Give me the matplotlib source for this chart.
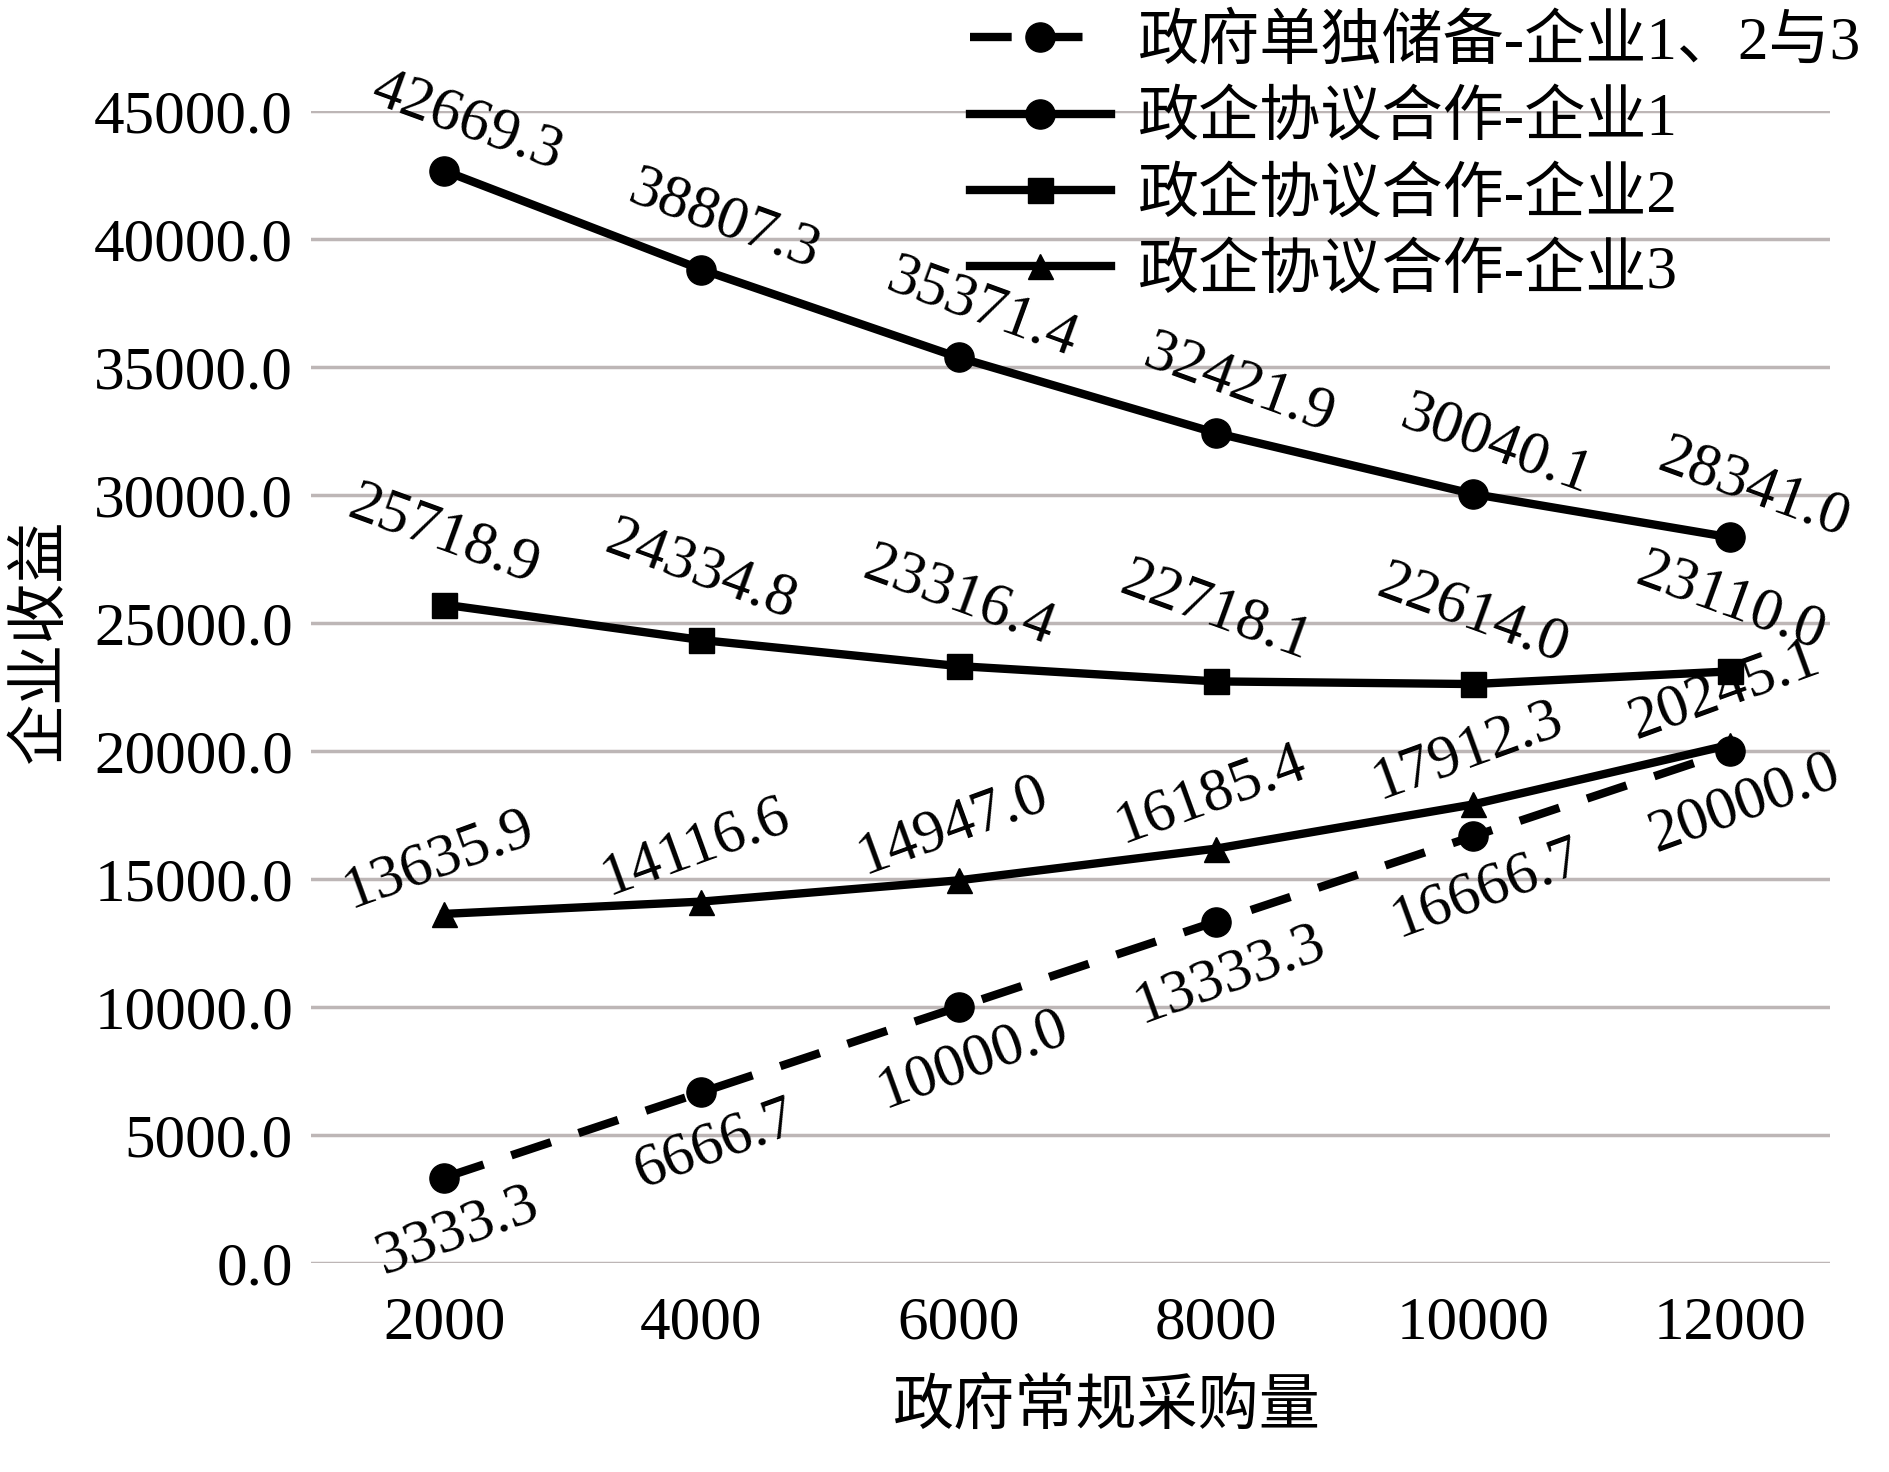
"""企业收益 vs 政府常规采购量 line chart."""

import matplotlib
matplotlib.use("Agg")
import matplotlib.pyplot as plt

plt.rcParams['font.family'] = ['Liberation Serif', 'Noto Sans CJK SC']

# data
purchase = ["2000", "4000", "6000", "8000", "10000", "12000"]
gov_alone = [3333.3, 6666.7, 10000.0, 13333.3, 16666.7, 20000.0]
coop_firm1 = [42669.3, 38807.3, 35371.4, 32421.9, 30040.1, 28341.0]
coop_firm2 = [25718.9, 24334.8, 23316.4, 22718.1, 22614.0, 23110.0]
coop_firm3 = [13635.9, 14116.6, 14947.0, 16185.4, 17912.3, 20245.1]
series_names = ["政府单独储备-企业1、2与3", "政企协议合作-企业1",
                "政企协议合作-企业2", "政企协议合作-企业3"]
yticks = [0, 5000, 10000, 15000, 20000, 25000, 30000, 35000, 40000, 45000]

fs = 44
x = list(range(len(purchase)))

fig = plt.figure(figsize=(18.9, 14.72), dpi=100)
ax = fig.add_axes([0.1646, 0.142, 0.8034, 0.7826])

for y in yticks:
    ax.axhline(y, color="#bdb6b6", lw=2.5, zorder=0)

l0, = ax.plot(x, gov_alone, color="black", lw=6, ls=(0, (5, 3.5)),
              marker="o", ms=21, label=series_names[0])
l1, = ax.plot(x, coop_firm1, color="black", lw=6, marker="o", ms=21,
              label=series_names[1])
l2, = ax.plot(x, coop_firm2, color="black", lw=6, marker="s", ms=18,
              label=series_names[2])
l3, = ax.plot(x, coop_firm3, color="black", lw=6, marker="^", ms=18,
              label=series_names[3])

# value labels
def put_labels(vals, dx, dy, rot):
    for i, v in enumerate(vals):
        ax.annotate(f"{v:.1f}", (i, v), xytext=(dx, dy), textcoords="offset points",
                    ha="center", va="center", rotation=rot, rotation_mode="anchor",
                    fontsize=fs, annotation_clip=False)

put_labels(coop_firm1, 17, 35, -20)
put_labels(coop_firm2, 0, 50, -20)
put_labels(coop_firm3, -4, 39, 20)
put_labels(gov_alone, 10, -38, 20)

ax.set_xlim(-0.517, 5.385)
ax.set_ylim(0, 45000)
ax.set_xticks(x)
ax.set_xticklabels(purchase)
ax.set_yticks(yticks)
ax.set_yticklabels([f"{v:.1f}" for v in yticks])
ax.tick_params(axis="both", length=0, labelsize=fs)
ax.tick_params(axis="x", pad=24)
ax.tick_params(axis="y", pad=13)
for s in ax.spines.values():
    s.set_visible(False)

ax.set_xlabel("政府常规采购量", fontsize=fs, labelpad=20)
ax.xaxis.set_label_coords(0.524, -0.101)
fig.text(0.022, 0.565, "企业收益", rotation=90, fontsize=fs, ha="center", va="center")

fig.legend(handles=[l0, l1, l2, l3], loc="upper left",
           bbox_to_anchor=(970 / 1890, 1 - 14 / 1472), frameon=False,
           fontsize=fs, handlelength=2.3, handletextpad=0.45,
           labelspacing=0.32, borderpad=0, borderaxespad=0)

plt.savefig("out.png", dpi=100)
plt.close()
